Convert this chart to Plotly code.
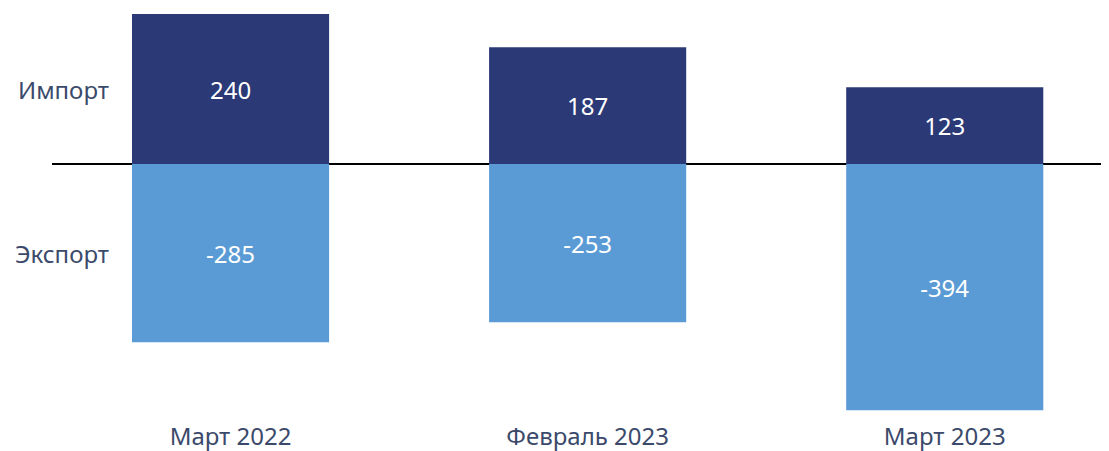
import plotly.graph_objects as go

categories = ["Март 2022", "Февраль 2023", "Март 2023"]
import_vals = [240, 187, 123]
export_vals = [-285, -253, -394]
series_names = ["Импорт", "Экспорт"]

FONT = "Noto Sans"
TEXT_COLOR = "#3b4a6b"
IMP_COLOR = "#2b3a76"
EXP_COLOR = "#5b9bd5"

# page body adds an 8px margin; size the figure to fit the window
W, H = 1101, 443
ml, mr, mt, mb = 44, 0, 0, 27
plot_h = H - mt - mb
zero_px = 156
scale = 0.625
y_top = zero_px / scale
y_bot = -(plot_h - zero_px) / scale

fig = go.Figure()
fig.add_trace(go.Bar(
    x=categories, y=import_vals, name=series_names[0],
    marker=dict(color=IMP_COLOR, line=dict(width=0)),
    text=[str(v) for v in import_vals], textposition="inside",
    insidetextanchor="middle",
    textfont=dict(color="white", size=24, family=FONT),
))
fig.add_trace(go.Bar(
    x=categories, y=export_vals, name=series_names[1],
    marker=dict(color=EXP_COLOR, line=dict(width=0)),
    text=[str(v) for v in export_vals], textposition="inside",
    insidetextanchor="middle",
    textfont=dict(color="white", size=24, family=FONT),
))

fig.add_annotation(x=0, xref="paper", xanchor="right", xshift=59,
                   y=import_vals[0] / 2, yref="y", text=series_names[0],
                   showarrow=False, font=dict(size=24, color=TEXT_COLOR, family=FONT))
fig.add_annotation(x=0, xref="paper", xanchor="right", xshift=59,
                   y=export_vals[0] / 2, yref="y", text=series_names[1],
                   showarrow=False, font=dict(size=24, color=TEXT_COLOR, family=FONT))

fig.update_layout(
    width=W, height=H,
    margin=dict(l=ml, r=mr, t=mt, b=mb, autoexpand=False),
    barmode="relative",
    bargap=0.448,
    plot_bgcolor="white", paper_bgcolor="white",
    showlegend=False,
    font=dict(family=FONT, color=TEXT_COLOR),
    uniformtext=dict(mode=False),
)
fig.update_xaxes(
    type="category", range=[-0.5, 2.46],
    showgrid=False, showline=False, zeroline=False, ticks="",
    tickfont=dict(size=24, color=TEXT_COLOR, family=FONT),
    ticklabelstandoff=-4, automargin=False,
)
fig.update_yaxes(
    range=[y_bot, y_top], showgrid=False, showticklabels=False,
    zeroline=True, zerolinecolor="#000000", zerolinewidth=1.5, showline=False,
    automargin=False,
)

fig.write_html("out.html")
